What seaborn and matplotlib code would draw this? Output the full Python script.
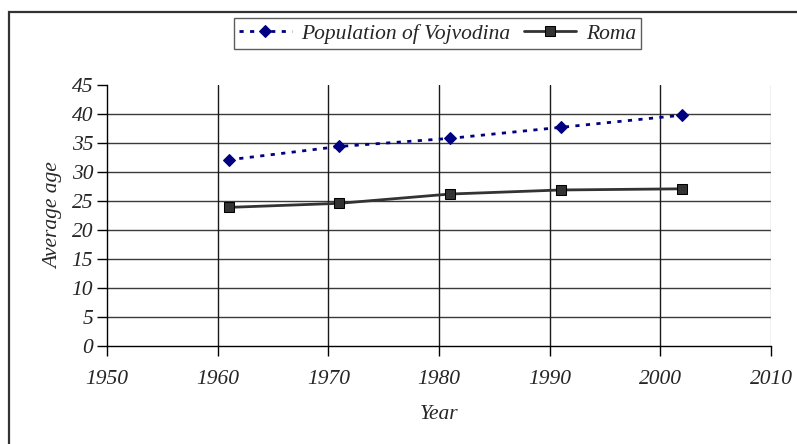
import pandas as pd
import matplotlib
matplotlib.use('Agg')
import matplotlib.pyplot as plt
import matplotlib.patches as patches
import seaborn as sns

# data
years = [1961, 1971, 1981, 1991, 2002]
vojvodina = [32.1, 34.4, 35.8, 37.7, 39.8]
roma = [23.9, 24.6, 26.2, 26.9, 27.1]
x_ticks = [1950, 1960, 1970, 1980, 1990, 2000, 2010]
y_ticks = [0, 5, 10, 15, 20, 25, 30, 35, 40, 45]

df = pd.DataFrame({'Year': years, 'Vojvodina': vojvodina, 'Roma': roma})

sns.set_theme(style='white')
plt.rcParams['font.family'] = ['Liberation Serif', 'DejaVu Serif']
plt.rcParams['font.style'] = 'italic'

fs = 15.5
fig = plt.figure(figsize=(7.97, 4.44), dpi=100)
ax = fig.add_axes([0.1343, 0.2207, 0.8331, 0.5879])

sns.lineplot(data=df, x='Year', y='Vojvodina', ax=ax, color='#000080',
             linestyle=(0, (1.5, 2.3)), linewidth=2, marker='D',
             markersize=6, markeredgecolor='#000080', markerfacecolor='#000080',
             label='Population of Vojvodina', zorder=4)
sns.lineplot(data=df, x='Year', y='Roma', ax=ax, color='#333333',
             linewidth=2, marker='s', markersize=6.5,
             markerfacecolor='#333333', markeredgecolor='black',
             label='Roma', zorder=4)

ax.set_xlim(1950, 2010)
ax.set_ylim(0, 45)
ax.set_xticks(x_ticks)
ax.set_yticks(y_ticks)
ax.set_xticklabels([str(v) for v in x_ticks])
ax.set_yticklabels([str(v) for v in y_ticks])
for lbl in ax.get_xticklabels() + ax.get_yticklabels():
    lbl.set_fontstyle('italic')
    lbl.set_fontsize(fs)
    lbl.set_fontfamily('Liberation Serif')
ax.tick_params(axis='both', direction='out', length=7, width=1, color='black',
               bottom=True, left=True, pad=3)
ax.tick_params(axis='x', pad=10)

# grid lines
for v in y_ticks[1:-1]:
    ax.axhline(v, color='#3a3a3a', lw=1, zorder=1)
for v in x_ticks[1:-1]:
    ax.axvline(v, color='#1a1a1a', lw=1, zorder=1)
ax.axvline(2010, color='#b0b0b0', lw=1, zorder=1)

for side in ['top', 'right']:
    ax.spines[side].set_visible(False)
for side in ['left', 'bottom']:
    ax.spines[side].set_color('black')
    ax.spines[side].set_linewidth(1)

ax.set_xlabel('Year', fontsize=fs, style='italic', labelpad=12)
ax.set_ylabel('Average age', fontsize=fs, style='italic', labelpad=6)

ax.get_legend().remove()
handles, labels = ax.get_legend_handles_labels()
leg = fig.legend(handles, labels, loc='center', bbox_to_anchor=(0.549, 0.9245),
                 ncol=2, frameon=True, fancybox=False, edgecolor='#333333',
                 prop={'family': 'Liberation Serif', 'style': 'italic', 'size': fs},
                 handlelength=2.45, columnspacing=0.6, handletextpad=0.45,
                 borderpad=0.25, borderaxespad=0)
leg.get_frame().set_linewidth(1)

# outer chart border (cut off on right and bottom in the reference)
fig.patches.append(patches.Rectangle((9 / 797, -0.1), 1.2, 0.1 + 432 / 444,
                                     transform=fig.transFigure, fill=False,
                                     edgecolor='#333333', linewidth=1.6))

fig.savefig('out.png', dpi=100)
